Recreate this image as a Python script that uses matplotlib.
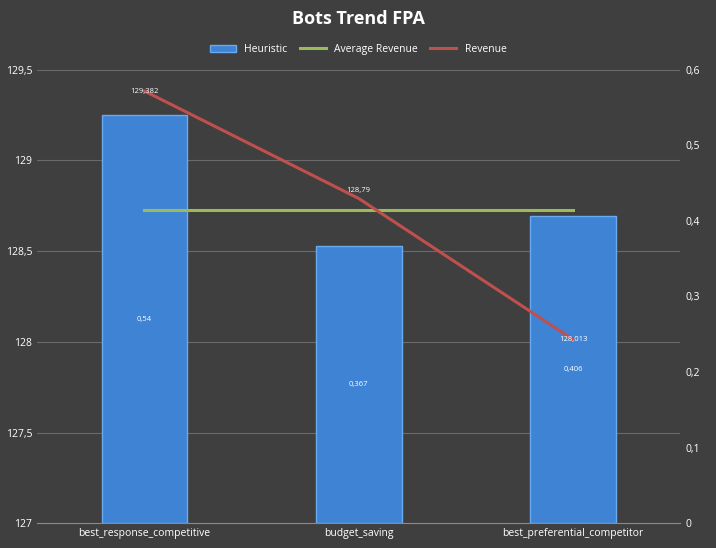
import matplotlib
matplotlib.use("Agg")
import matplotlib.pyplot as plt
import matplotlib.transforms as mtransforms
import numpy as np

categories = ["best_response_competitive", "budget_saving", "best_preferential_competitor"]
heuristic = [0.54, 0.367, 0.406]
revenue = [129.382, 128.79, 128.013]
avg_revenue = [128.728, 128.728, 128.728]

plt.rcParams['font.family'] = ['Open Sans', 'DejaVu Sans']
bg = '#3f3f3f'
fig = plt.figure(figsize=(7.16, 5.48), dpi=100, facecolor=bg)
ax = fig.add_axes([0.052, 0.045, 0.898, 0.828])
ax.set_facecolor(bg)
ax2 = ax.twinx()
ax.set_zorder(ax2.get_zorder() + 1)
ax.patch.set_visible(False)
ax2.set_facecolor(bg)

ax.set_ylim(127, 129.5)
ticks = np.arange(127, 129.51, 0.5)
ax.set_yticks(ticks)
ax.set_yticklabels([f"{v:g}".replace('.', ',') for v in ticks])
ax.set_xlim(-0.5, 2.5)

x = np.arange(len(categories))
trans = mtransforms.blended_transform_factory(ax2.transAxes, ax.transData)
for t in ticks[1:]:
    ax2.plot([0, 1], [t, t], transform=trans, color='#6a6a6a', lw=0.8, zorder=0)
ax2.bar(x, heuristic, width=0.4, color='#3f83d4', edgecolor='#6aaaf0', linewidth=1, label='Heuristic', zorder=2)
for xi, h in zip(x, heuristic):
    ax2.text(xi, h / 2, f"{h:g}".replace('.', ','), color='white', fontsize=5.5, ha='center', va='center', zorder=3)
ax2.set_ylim(0, 0.6)
rt = np.arange(0, 0.61, 0.1).round(1)
ax2.set_yticks(rt)
ax2.set_yticklabels([f"{v:g}".replace('.', ',') for v in rt])

ax.plot(x, avg_revenue, color='#9bbb59', lw=2.2, label='Average Revenue')
ax.plot(x, revenue, color='#c0504d', lw=2.2, label='Revenue')
offs = [0, 6, 0]
for xi, r, o in zip(x, revenue, offs):
    ax.annotate(f"{r:g}".replace('.', ','), (xi, r), xytext=(0, o), textcoords='offset points',
                color='white', fontsize=5.5, ha='center', va='center')
ax.set_xticks(x)
ax.set_xticklabels(categories)
for a in (ax, ax2):
    a.tick_params(colors='white', labelsize=7.5, length=0)
    for s in a.spines.values():
        s.set_visible(False)
ax.spines['bottom'].set_visible(True)
ax.spines['bottom'].set_color('#8a8a8a')

fig.text(0.5, 0.965, "Bots Trend FPA", color='white', fontsize=13, fontweight='bold', ha='center', va='center')
h1, l1 = ax2.get_legend_handles_labels()
h2, l2 = ax.get_legend_handles_labels()
fig.legend(h1 + h2, l1 + l2, loc='center', bbox_to_anchor=(0.5, 0.91), ncol=3, frameon=False,
           fontsize=7.5, labelcolor='white', handlelength=2.5, columnspacing=1.2)
fig.savefig("out.png", dpi=100, facecolor=bg)
